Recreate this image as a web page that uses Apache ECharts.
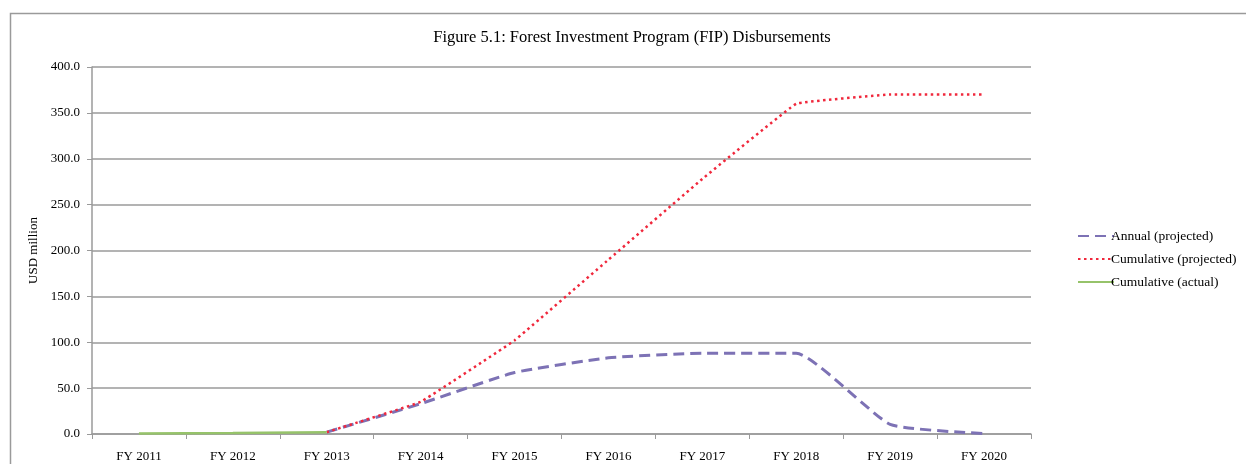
<!DOCTYPE html>
<html>
  <head>
    <meta charset="utf-8" />
    <title>FIP Disbursements</title>
    <script src="https://cdn.jsdelivr.net/npm/echarts@6/dist/echarts.min.js"></script>
  </head>
  <body style="margin:0;">
    <div id="main" style="width: 1246px;height:464px;"></div>
    <script type="text/javascript">
      // data
      var years = ['FY 2011', 'FY 2012', 'FY 2013', 'FY 2014', 'FY 2015', 'FY 2016', 'FY 2017', 'FY 2018', 'FY 2019', 'FY 2020'];
      var annualProjected = [null, null, 2.0, 33.0, 67.0, 83.0, 88.0, 88.0, 10.5, 0.5];
      var cumulativeProjected = [null, null, 2.0, 35.0, 102.0, 190.0, 278.0, 360.0, 370.0, 370.0];
      var cumulativeActual = [0.5, 1.0, 2.0, null, null, null, null, null, null, null];

      var serif = '"Liberation Serif", "DejaVu Serif", serif';
      var myChart = echarts.init(document.getElementById('main'));

      option = {
        backgroundColor: '#fff',
        textStyle: { fontFamily: serif, color: '#000' },
        title: {
          text: 'Figure 5.1: Forest Investment Program (FIP) Disbursements',
          left: 627,
          textAlign: 'center',
          top: 24,
          textStyle: { fontFamily: serif, fontSize: 16.5, fontWeight: 'normal', color: '#000' }
        },
        graphic: [{
          type: 'rect',
          shape: { x: 10.5, y: 13.5, width: 1260, height: 470 },
          style: { fill: null, stroke: '#9a9a9a', lineWidth: 1.5 },
          silent: true
        }],
        legend: {
          orient: 'vertical',
          left: 1072,
          top: 224,
          itemWidth: 36,
          itemHeight: 12,
          itemGap: 9,
          itemStyle: { opacity: 0 },
          textStyle: { fontFamily: serif, fontSize: 13.5, color: '#000', padding: [0, 0, 0, -8] },
          data: ['Annual (projected)', 'Cumulative (projected)', 'Cumulative (actual)']
        },
        grid: { left: 92, right: 215, top: 67, bottom: 30, containLabel: false },
        xAxis: {
          type: 'category',
          data: years,
          boundaryGap: true,
          axisLine: { lineStyle: { color: '#9a9a9a', width: 1.5 } },
          axisTick: { show: true, length: 5, lineStyle: { color: '#9a9a9a' } },
          axisLabel: { fontFamily: serif, fontSize: 13, color: '#000', margin: 16 }
        },
        yAxis: {
          type: 'value',
          min: 0,
          max: 400,
          interval: 50,
          name: 'USD million',
          nameLocation: 'middle',
          nameGap: 51,
          nameTextStyle: { fontFamily: serif, fontSize: 13, color: '#000' },
          axisLine: { show: true, lineStyle: { color: '#9a9a9a', width: 1.5 } },
          axisTick: { show: true, length: 5, lineStyle: { color: '#9a9a9a' } },
          axisLabel: { fontFamily: serif, fontSize: 13, color: '#000', margin: 12,
            formatter: function (v) { return v.toFixed(1); } },
          splitLine: { lineStyle: { color: '#9a9a9a', width: 1.5 } }
        },
        series: [
          {
            name: 'Annual (projected)',
            type: 'line',
            data: annualProjected,
            smooth: 0.15,
            symbol: 'none',
            itemStyle: { color: '#7d72b5' },
            lineStyle: { color: '#7d72b5', width: 3, type: [11, 6] }
          },
          {
            name: 'Cumulative (projected)',
            type: 'line',
            data: cumulativeProjected,
            smooth: 0.05,
            symbol: 'none',
            itemStyle: { color: '#f0283c' },
            lineStyle: { color: '#f0283c', width: 2.5, type: [2.5, 3.5] }
          },
          {
            name: 'Cumulative (actual)',
            type: 'line',
            data: cumulativeActual,
            symbol: 'none',
            itemStyle: { color: '#96c36a' },
            lineStyle: { color: '#96c36a', width: 2.5 }
          }
        ]
      };
      myChart.setOption(option);
    </script>
  </body>
</html>
